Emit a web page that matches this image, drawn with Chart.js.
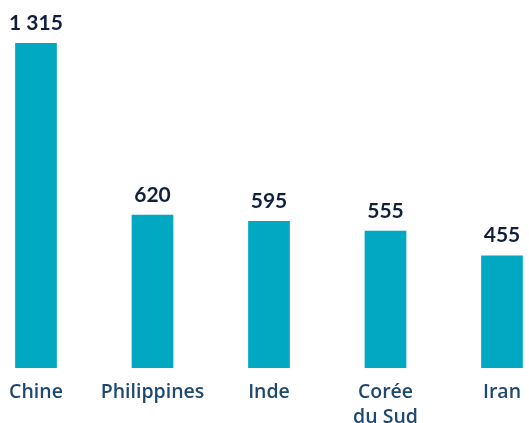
<!DOCTYPE html>
<html>
<head>
<meta charset="utf-8">
<script src="https://cdn.jsdelivr.net/npm/chart.js@4"></script>
<style>
  html, body { margin: 0; padding: 0; background: #fff; }
  #wrap { width: 529px; height: 423px; }
</style>
</head>
<body>
<div id="wrap"><canvas id="chart"></canvas></div>
<script>
var pays = ["Chine", "Philippines", "Inde", ["Corée", "du Sud"], "Iran"];
var valeurs = [1315, 620, 595, 555, 455];
var etiquettes = ["1 315", "620", "595", "555", "455"];

// libellés au-dessus des barres
var valeurPlugin = {
    id: 'valeurs',
    afterDatasetsDraw: function (chart) {
        var ctx = chart.ctx;
        var meta = chart.getDatasetMeta(0);
        ctx.save();
        ctx.font = "bold 21px Lato";
        ctx.fillStyle = "#0f1f3d";
        ctx.textAlign = "center";
        ctx.textBaseline = "middle";
        meta.data.forEach(function (bar, i) {
            ctx.fillText(etiquettes[i], bar.x, bar.y - 20);
        });
        ctx.restore();
    }
};

var ctx = document.getElementById('chart').getContext('2d');

var chart = new Chart(ctx, {
    type: 'bar',
    data: {
        labels: pays,
        datasets: [{
            data: valeurs,
            backgroundColor: '#00a8c2',
            barPercentage: 0.358,
            categoryPercentage: 1,
            clip: false
        }]
    },
    options: {
        responsive: true,
        maintainAspectRatio: false,
        animation: false,
        layout: {padding: {left: 36, right: 27, top: 43, bottom: 0}},
        plugins: {legend: {display: false}, tooltip: {enabled: false}},
        scales: {
            x: {
                offset: false,
                grid: {display: false, drawTicks: false},
                border: {display: false},
                ticks: {
                    color: '#1d4871',
                    padding: 12,
                    maxRotation: 0,
                    autoSkip: false,
                    font: {family: 'Open Sans', size: 19.5, weight: '600', lineHeight: 1.28}
                },
                afterFit: function (scale) {
                    scale.height = 55;
                    scale.paddingLeft = 0;
                    scale.paddingRight = 0;
                }
            },
            y: {
                display: false,
                min: 0,
                max: 1315
            }
        }
    },
    plugins: [valeurPlugin]
});
</script>
</body>
</html>
